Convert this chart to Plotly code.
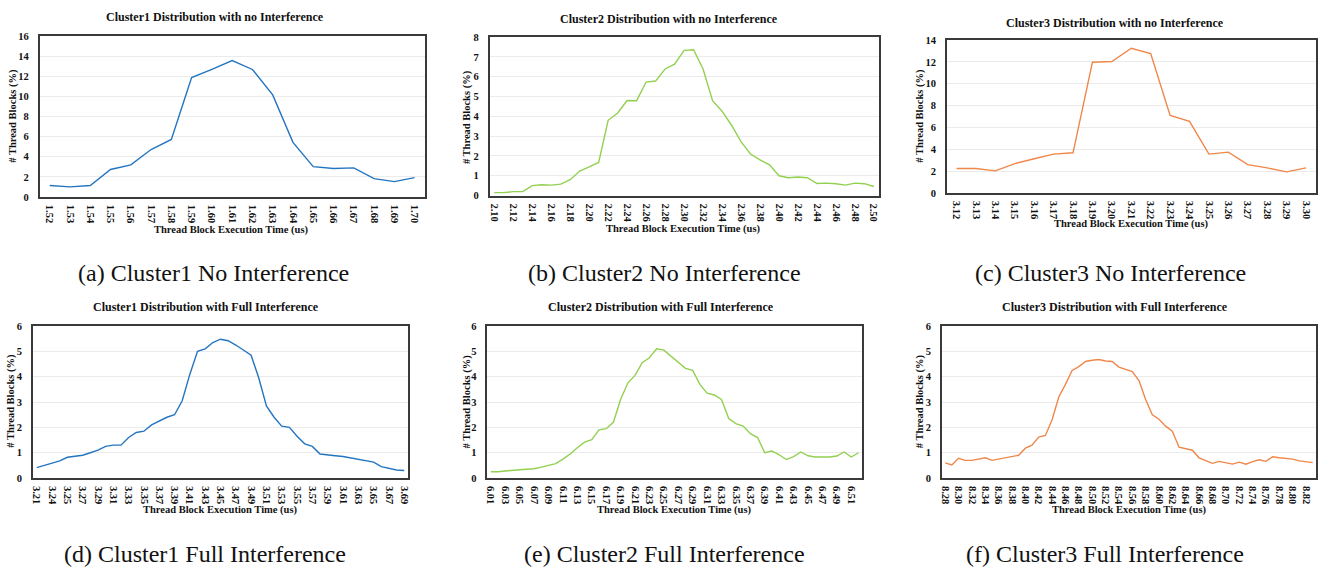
import plotly.graph_objects as go

W, H = 1323, 575          # picture size

# ---------------- data ----------------
a_categories = ["1.52", "1.53", "1.54", "1.55", "1.56", "1.57", "1.58", "1.59", "1.60", "1.61",
                "1.62", "1.63", "1.64", "1.65", "1.66", "1.67", "1.68", "1.69", "1.70"]
a_values = [1.14, 1.0, 1.14, 2.73, 3.19, 4.72, 5.72, 11.87, 12.7, 13.56,
            12.68, 10.15, 5.43, 3.02, 2.83, 2.89, 1.82, 1.53, 1.92]

b_categories = ["2.10", "2.11", "2.12", "2.13", "2.14", "2.15", "2.16", "2.17", "2.18", "2.19",
                "2.20", "2.21", "2.22", "2.23", "2.24", "2.25", "2.26", "2.27", "2.28", "2.29",
                "2.30", "2.31", "2.32", "2.33", "2.34", "2.35", "2.36", "2.37", "2.38", "2.39",
                "2.40", "2.41", "2.42", "2.43", "2.44", "2.45", "2.46", "2.47", "2.48", "2.49", "2.50"]
b_values = [0.15, 0.15, 0.2, 0.2, 0.5, 0.55, 0.53, 0.58, 0.8, 1.24,
            1.45, 1.67, 3.8, 4.17, 4.8, 4.79, 5.73, 5.78, 6.39, 6.63,
            7.33, 7.36, 6.39, 4.79, 4.26, 3.55, 2.72, 2.1, 1.8, 1.55,
            1.0, 0.9, 0.94, 0.9, 0.61, 0.63, 0.6, 0.53, 0.63, 0.6, 0.46]

c_categories = ["3.12", "3.13", "3.14", "3.15", "3.16", "3.17", "3.18", "3.19", "3.20", "3.21",
                "3.22", "3.23", "3.24", "3.25", "3.26", "3.27", "3.28", "3.29", "3.30"]
c_values = [2.24, 2.24, 2.03, 2.69, 3.14, 3.56, 3.68, 11.97, 12.03, 13.25,
            12.77, 7.09, 6.55, 3.56, 3.74, 2.6, 2.3, 1.94, 2.3]

# panel d: only every second category label is shown in the source
d_ticklabels = ["3.21", "3.24", "3.25", "3.27", "3.29", "3.31", "3.33", "3.35", "3.37", "3.39",
                "3.41", "3.43", "3.45", "3.47", "3.49", "3.51", "3.53", "3.55", "3.57", "3.59",
                "3.61", "3.63", "3.65", "3.67", "3.69"]
d_values = [0.41, 0.5, 0.6, 0.68, 0.82, 0.86, 0.9, 1.0, 1.1, 1.25,
            1.3, 1.3, 1.6, 1.8, 1.85, 2.1, 2.25, 2.4, 2.5, 3.05,
            4.1, 5.0, 5.1, 5.35, 5.48, 5.42, 5.25, 5.05, 4.85, 3.95,
            2.85, 2.4, 2.05, 2.0, 1.65, 1.35, 1.25, 0.95, 0.9, 0.88,
            0.85, 0.8, 0.75, 0.7, 0.63, 0.45, 0.37, 0.32, 0.3]

e_categories = ["6.01", "6.02", "6.03", "6.04", "6.05", "6.06", "6.07", "6.08", "6.09", "6.10",
                "6.11", "6.12", "6.13", "6.14", "6.15", "6.16", "6.17", "6.18", "6.19", "6.20",
                "6.21", "6.22", "6.23", "6.24", "6.25", "6.26", "6.27", "6.28", "6.29", "6.30",
                "6.31", "6.32", "6.33", "6.34", "6.35", "6.36", "6.37", "6.38", "6.39", "6.40",
                "6.41", "6.42", "6.43", "6.44", "6.45", "6.46", "6.47", "6.48", "6.49", "6.50",
                "6.51", "6.52"]
e_values = [0.25, 0.25, 0.28, 0.32, 0.33, 0.35, 0.37, 0.43, 0.5, 0.57,
            0.75, 0.95, 1.2, 1.42, 1.52, 1.9, 1.95, 2.2, 3.1, 3.75,
            4.05, 4.55, 4.75, 5.1, 5.05, 4.8, 4.55, 4.33, 4.25, 3.7,
            3.35, 3.28, 3.1, 2.35, 2.15, 2.05, 1.75, 1.6, 1.0, 1.07,
            0.92, 0.73, 0.85, 1.03, 0.88, 0.83, 0.83, 0.83, 0.87, 1.03,
            0.83, 1.0]

f_categories = ["8.28", "8.29", "8.30", "8.31", "8.32", "8.33", "8.34", "8.35", "8.36", "8.37",
                "8.38", "8.39", "8.40", "8.41", "8.42", "8.43", "8.44", "8.45", "8.46", "8.47",
                "8.48", "8.49", "8.50", "8.51", "8.52", "8.53", "8.54", "8.55", "8.56", "8.57",
                "8.58", "8.59", "8.60", "8.61", "8.62", "8.63", "8.64", "8.65", "8.66", "8.67",
                "8.68", "8.69", "8.70", "8.71", "8.72", "8.73", "8.74", "8.75", "8.76", "8.77",
                "8.78", "8.79", "8.80", "8.81", "8.82", "8.83"]
f_values = [0.6, 0.52, 0.78, 0.7, 0.7, 0.75, 0.8, 0.7, 0.75, 0.8,
            0.86, 0.9, 1.18, 1.3, 1.62, 1.68, 2.3, 3.2, 3.7, 4.25,
            4.4, 4.6, 4.65, 4.68, 4.62, 4.6, 4.38, 4.3, 4.2, 3.85,
            3.1, 2.5, 2.32, 2.05, 1.85, 1.22, 1.15, 1.1, 0.8, 0.68,
            0.58, 0.66, 0.6, 0.55, 0.63, 0.55, 0.65, 0.72, 0.66, 0.84,
            0.8, 0.77, 0.75, 0.68, 0.64, 0.61]

titles = ["Cluster1 Distribution with no Interference", "Cluster2 Distribution with no Interference",
          "Cluster3 Distribution with no Interference", "Cluster1 Distribution with Full Interference",
          "Cluster2 Distribution with Full Interference", "Cluster3 Distribution with Full Interference"]
captions = ["(a) Cluster1 No Interference", "(b) Cluster2 No Interference", "(c) Cluster3 No Interference",
            "(d) Cluster1 Full Interference", "(e) Cluster2 Full Interference", "(f) Cluster3 Full Interference"]
x_title = "Thread Block Execution Time (us)"
y_title = "# Thread Blocks (%)"

BLUE, GREEN, ORANGE = "#2475C0", "#92D050", "#F0874A"

# ---------------- layout (pixel geometry of the picture) ----------------
panels = [
    dict(vals=a_values, ticks=a_categories, step=1, color=BLUE, ymax=16, dy=2,
         box=(37.7, 424, 31.7, 195.7), t=(214, 12), xt=(230.5, 229), yt=(11, 113), cap=(212, 273)),
    dict(vals=b_values, ticks=b_categories[::2], step=2, color=GREEN, ymax=8, dy=1,
         box=(489, 879.3, 32.7, 194.3), t=(668.7, 14), xt=(684, 228), yt=(466.7, 114), cap=(664.5, 273)),
    dict(vals=c_values, ticks=c_categories, step=1, color=ORANGE, ymax=14, dy=2,
         box=(947.7, 1317.7, 35.7, 191.7), t=(1116.7, 18.3), xt=(1133.3, 223.7), yt=(920.7, 113), cap=(1111.5, 273)),
    dict(vals=d_values, ticks=d_ticklabels, step=2, color=BLUE, ymax=6, dy=1,
         box=(31, 407.3, 327.3, 482.3), t=(205, 308.3), xt=(219.5, 515), yt=(9.5, 403), cap=(204, 560)),
    dict(vals=e_values, ticks=e_categories[::2], step=2, color=GREEN, ymax=6, dy=1,
         box=(486.7, 862.7, 327.3, 482.3), t=(660.7, 308.3), xt=(674.8, 515), yt=(466.7, 404), cap=(664.5, 560)),
    dict(vals=f_values, ticks=f_categories[::2], step=2, color=ORANGE, ymax=6, dy=1,
         box=(942.7, 1318, 327.3, 482.3), t=(1116, 308.3), xt=(1131, 514.7), yt=(920.7, 404), cap=(1106, 560)),
]


def px(x):
    return x / W


def py(y):
    return 1 - y / H


SERIF = "Liberation Serif"
fig = go.Figure()
annotations = []
layout = {}

for i, p in enumerate(panels):
    k = "" if i == 0 else str(i + 1)
    n = len(p["vals"])
    xs = list(range(n))
    fig.add_trace(go.Scatter(x=xs, y=p["vals"], mode="lines",
                             line=dict(color=p["color"], width=1.4),
                             xaxis="x" + k, yaxis="y" + k, showlegend=False,
                             hoverinfo="y"))
    l, r, t, b = p["box"]
    tickvals = list(range(0, n, p["step"]))[:len(p["ticks"])]
    yvals = list(range(0, p["ymax"] + 1, p["dy"]))
    layout["xaxis" + k] = dict(
        domain=[px(l), px(r)], anchor="y" + k, range=[-0.5, n - 0.5],
        tickmode="array", tickvals=tickvals, ticktext=["<b>%s</b>" % s for s in p["ticks"]], tickangle=90,
        tickfont=dict(family=SERIF, size=10.5, color="#111"),
        showline=True, mirror=True, linecolor="#3a3a3a", linewidth=1.5,
        showgrid=False, zeroline=False, ticks="", ticklabelstandoff=4)
    layout["yaxis" + k] = dict(
        domain=[py(b), py(t)], anchor="x" + k, range=[0, p["ymax"]],
        tickmode="array", tickvals=yvals, ticktext=["<b>%d</b>" % v for v in yvals],
        tickfont=dict(family=SERIF, size=10.5, color="#111"),
        showline=True, mirror=True, linecolor="#3a3a3a", linewidth=1.5,
        showgrid=True, gridcolor="#ebebeb", gridwidth=1, zeroline=False, ticks="",
        ticklabelstandoff=7)
    annotations.append(dict(text="<b>%s</b>" % titles[i], x=px(p["t"][0]), y=py(p["t"][1]),
                            xref="paper", yref="paper", xanchor="center", yanchor="middle", showarrow=False,
                            font=dict(family=SERIF, size=12, color="#111")))
    annotations.append(dict(text="<b>%s</b>" % x_title, x=px(p["xt"][0]), y=py(p["xt"][1]),
                            xref="paper", yref="paper", xanchor="center", yanchor="middle", showarrow=False,
                            font=dict(family=SERIF, size=10.5, color="#111")))
    annotations.append(dict(text="<b>%s</b>" % y_title, x=px(p["yt"][0]), y=py(p["yt"][1]),
                            xref="paper", yref="paper", xanchor="center", yanchor="middle", showarrow=False,
                            textangle=-90, font=dict(family=SERIF, size=10.5, color="#111")))
    annotations.append(dict(text=captions[i], x=px(p["cap"][0]), y=py(p["cap"][1]),
                            xref="paper", yref="paper", xanchor="center", yanchor="middle", showarrow=False,
                            font=dict(family=SERIF, size=24, color="#111")))

fig.update_layout(width=W, height=H, margin=dict(l=0, r=0, t=0, b=0),
                  paper_bgcolor="white", plot_bgcolor="white",
                  annotations=annotations, **layout)

# remove the browser's default 8px page margin so the figure fills the window exactly
fig.write_html("out.html", config={"displayModeBar": False},
               post_script="document.body.style.margin='0px';")
